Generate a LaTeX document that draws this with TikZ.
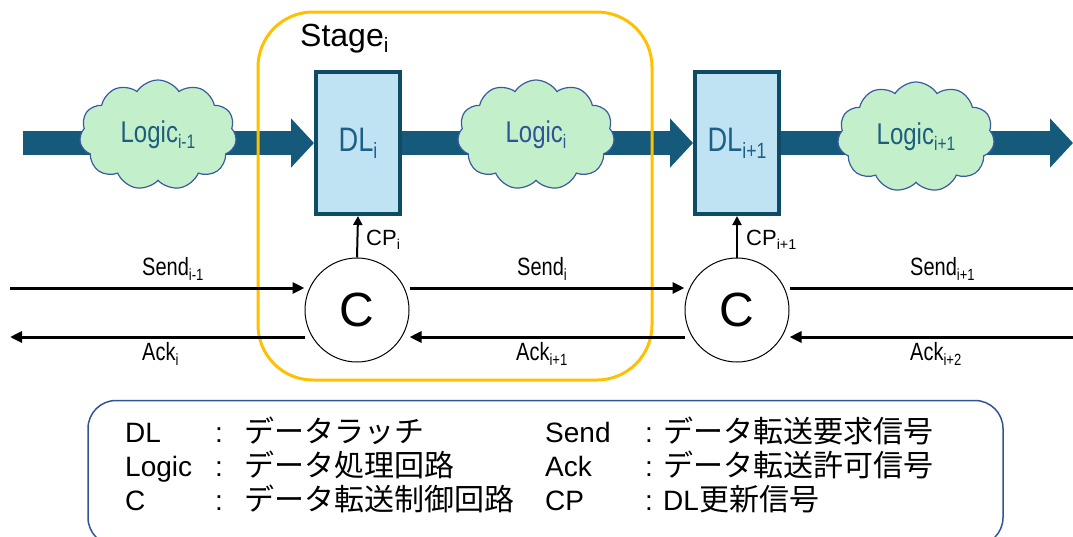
\documentclass[tikz,border=0pt]{standalone}
\usepackage{fontspec}
\usepackage{graphicx}
\setmainfont{Liberation Sans}
\newfontfamily\jp{Noto Sans CJK JP}
\usetikzlibrary{arrows.meta,shapes.symbols}
\definecolor{bandcol}{HTML}{155A7B}
\definecolor{bandedge}{HTML}{0E4560}
\definecolor{dlfill}{HTML}{C0E3F3}
\definecolor{dlline}{HTML}{0F4B65}
\definecolor{dltext}{HTML}{1C6088}
\definecolor{cloudfill}{HTML}{C4EFCB}
\definecolor{cloudline}{HTML}{3A5BA0}
\definecolor{logictext}{HTML}{1E5E7D}
\definecolor{logicblue}{HTML}{2E5597}
\definecolor{stagecol}{HTML}{FFC000}
\definecolor{legcol}{HTML}{2F5597}
\newcommand\fs[1]{\fontsize{#1}{#1}\selectfont}
\newcommand\nar[1]{\scalebox{0.8}[1]{#1}}
\newcommand\lsub[1]{\raisebox{-0.2em}{\scalebox{0.65}{#1}}}
\tikzset{
  dlbox/.style={draw=dlline, fill=dlfill, line width=4, minimum width=84, minimum height=142, inner sep=0, text=dltext, font=\fs{34}},
  bandarrow/.style={line width=24, draw=bandcol, -{Triangle[length=23pt,width=48pt]}},
  logiccloud/.style={cloud, cloud puffs=11, cloud puff arc=115, cloud ignores aspect, minimum width=157, minimum height=110, fill=cloudfill, draw=cloudline, line width=1.2, inner sep=0, font=\fs{30}, text=logictext},
  stagebox/.style={draw=stagecol, line width=3, rounded corners=55, minimum width=394, minimum height=368},
  ctrl/.style={circle, draw, line width=1, minimum size=104, inner sep=0, font=\fs{48}},
  sig/.style={line width=3, -{Triangle[length=12pt,width=11pt]}},
  cparrow/.style={line width=2, -{Triangle[length=9pt,width=9pt]}},
  siglabel/.style={anchor=base west, inner sep=0, font=\fs{25}},
  cplabel/.style={anchor=base west, inner sep=0, font=\fs{22}},
  legbox/.style={draw=legcol, line width=1.5, rounded corners=28, minimum width=915, minimum height=145},
  legtext/.style={anchor=base west, inner sep=0, font=\fs{28}},
  legjp/.style={anchor=base west, inner sep=0, font=\fs{30}\jp},
}
\begin{document}
\begin{tikzpicture}[x=1pt,y=-1pt]
\useasboundingbox (0,0) rectangle (1073,536);
\clip (0,0) rectangle (1073,536);
% data latches
\node[dlbox] (DLi) at (358,143) {\nar{DL\lsub{i}}};
\node[dlbox] (DLj) at (737,143) {\nar{DL\lsub{i+1}}};
% data bands
\coordinate (bstart) at (23,143);
\coordinate (bend) at (1073,143);
\draw[bandarrow] (bstart) -- (DLi.west);
\draw[bandarrow] (DLi.east) -- (DLj.west);
\draw[bandarrow] (DLj.east) -- (bend);
% logic clouds
\node[logiccloud] (L0) at (158,135) {\nar{Logic\lsub{i-1}}};
\node[logiccloud, text=logicblue] (L1) at (536,135) {\nar{Logic\lsub{i}}};
\node[logiccloud] (L2) at (916,137) {\nar{Logic\lsub{i+1}}};
% stage box
\node[stagebox] (stage) at (455,196) {};
\node[anchor=base west, inner sep=0, font=\fs{32}] (stagelbl) at (300,46) {Stage\lsub{i}};
% controllers
\node[ctrl] (C1) at (357,310) {C};
\node[ctrl] (C2) at (737,310) {C};
\draw[cparrow] (C1.north) -- (DLi.south);
\draw[cparrow] (C2.north) -- (DLj.south);
\node[cplabel] (cp1) at (366,245) {CP\lsub{i}};
\node[cplabel] (cp2) at (746,245) {CP\lsub{i+1}};
% handshake lines
\coordinate (sL) at (10,288);
\coordinate (aL) at (10,337);
\coordinate (sR) at (1086,288);
\coordinate (aR) at (1073,337);
\draw[sig] (sL) -- ([yshift=22pt]C1.west);
\draw[sig] ([yshift=-27pt]C1.west) -- (aL);
\draw[sig] ([yshift=22pt]C1.east) -- ([yshift=22pt]C2.west);
\draw[sig] ([yshift=-27pt]C2.west) -- ([yshift=-27pt]C1.east);
\draw[sig] ([yshift=22pt]C2.east) -- (sR);
\draw[sig] (aR) -- ([yshift=-27pt]C2.east);
\node[siglabel] (s0) at (142,275) {\nar{Send\lsub{i-1}}};
\node[siglabel] (a0) at (142,360) {\nar{Ack\lsub{i}}};
\node[siglabel] (s1) at (517,275) {\nar{Send\lsub{i}}};
\node[siglabel] (a1) at (516,360) {\nar{Ack\lsub{i+1}}};
\node[siglabel] (s2) at (910,275) {\nar{Send\lsub{i+1}}};
\node[siglabel] (a2) at (910,360) {\nar{Ack\lsub{i+2}}};
% legend
\node[legbox] (legend) at (545.5,473) {};
\node[legtext] (k1) at (125,442) {DL};
\node[legtext] (k2) at (125,476) {Logic};
\node[legtext] (k3) at (125,510) {C};
\node[legtext] (c1) at (215,442) {:};
\node[legtext] (c2) at (215,476) {:};
\node[legtext] (c3) at (215,510) {:};
\node[legjp] (d1) at (244,442) {データラッチ};
\node[legjp] (d2) at (244,476) {データ処理回路};
\node[legjp] (d3) at (244,510) {データ転送制御回路};
\node[legtext] (k4) at (545,442) {Send};
\node[legtext] (k5) at (545,476) {Ack};
\node[legtext] (k6) at (545,510) {CP};
\node[legtext] (c4) at (645,442) {:};
\node[legtext] (c5) at (645,476) {:};
\node[legtext] (c6) at (645,510) {:};
\node[legjp] (d4) at (663,442) {データ転送要求信号};
\node[legjp] (d5) at (663,476) {データ転送許可信号};
\node[legjp] (d6) at (663,510) {{\fs{28}\rmfamily DL}更新信号};
\end{tikzpicture}
\end{document}
